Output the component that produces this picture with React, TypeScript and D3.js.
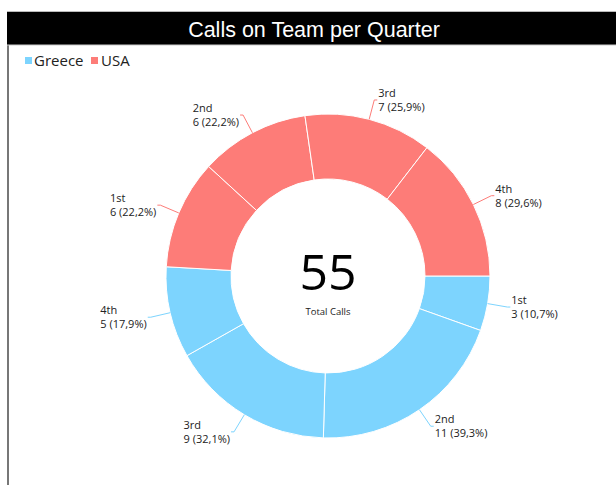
import React from "react";
import * as d3 from "d3";

const title = "Calls on Team per Quarter";
const series = ["Greece", "USA"];
const seriesColors = ["#7DD4FE", "#FD7C78"];
const quarters = ["1st", "2nd", "3rd", "4th"];
const greeceValues = [3, 11, 9, 5];
const usaValues = [6, 6, 7, 8];
const centerLabel = "Total Calls";

type Slice = { series: number; quarter: string; value: number; pct: number };

export default function App() {
  const W = 616;
  const H = 485;
  const cx = 328;
  const cy = 276;
  const outerR = 162;
  const innerR = 97;

  const all = [greeceValues, usaValues];
  const data: Slice[] = [];
  all.forEach((vals, s) => {
    const sum = d3.sum(vals);
    vals.forEach((v, i) =>
      data.push({ series: s, quarter: quarters[i], value: v, pct: (v / sum) * 100 })
    );
  });
  const total = d3.sum(data, (d) => d.value);

  const pie = d3
    .pie<Slice>()
    .value((d) => d.value)
    .sort(null)
    .startAngle(Math.PI / 2)
    .endAngle(Math.PI / 2 + 2 * Math.PI);
  const arcs = pie(data);
  const arc = d3.arc<d3.PieArcDatum<Slice>>().innerRadius(innerR).outerRadius(outerR);

  const fmt = (p: number) => p.toFixed(1).replace(".", ",");
  const labelFont = "'Open Sans', sans-serif";

  return (
    <svg
      width={W}
      height={H}
      style={{ position: "absolute", left: 0, top: 0, background: "#fff" }}
    >
      {/* frame */}
      <line x1={8} x2={8} y1={44} y2={H} stroke="#555" strokeWidth={1.6} />
      <rect x={7} y={11} width={W - 7} height={34} fill="#000" />
      <line x1={7} x2={W} y1={11.5} y2={11.5} stroke="#bbb" strokeWidth={1} />
      <line x1={7} x2={W} y1={45} y2={45} stroke="#ccc" strokeWidth={1} />
      <text
        x={314}
        y={37}
        textAnchor="middle"
        fill="#fff"
        fontFamily="'Liberation Sans', Arial, sans-serif"
        fontSize={21.5}
      >
        {title}
      </text>

      {/* legend */}
      <g fontFamily={labelFont} fontSize={15} fill="#222">
        <rect x={25} y={57} width={7} height={7} fill={seriesColors[0]} />
        <text x={34} y={66}>{series[0]}</text>
        <rect x={91} y={57} width={7} height={7} fill={seriesColors[1]} />
        <text x={101} y={66}>{series[1]}</text>
      </g>

      <g transform={`translate(${cx},${cy})`}>
        {arcs.map((a, i) => (
          <path
            key={i}
            d={arc(a) || ""}
            fill={seriesColors[a.data.series]}
            stroke="#fff"
            strokeWidth={1}
          />
        ))}
        {arcs.map((a, i) => {
          const mid = (a.startAngle + a.endAngle) / 2;
          const sx = Math.sin(mid);
          const sy = -Math.cos(mid);
          const p0 = [sx * outerR, sy * outerR];
          const p1 = [sx * (outerR + 20), sy * (outerR + 20)];
          const right = sx >= 0;
          const p2 = [p1[0] + (right ? 3 : -3), p1[1]];
          const tx = p2[0] + (right ? 1 : -1);
          return (
            <g key={"l" + i}>
              <polyline
                points={[p0, p1, p2].map((p) => p.join(",")).join(" ")}
                fill="none"
                stroke={seriesColors[a.data.series]}
                strokeWidth={1}
              />
              <LabelBlock
                x={tx}
                y={p1[1]}
                right={right}
                line1={a.data.quarter}
                line2={`${a.data.value} (${fmt(a.data.pct)}%)`}
                font={labelFont}
              />
            </g>
          );
        })}
        <text
          x={0}
          y={14}
          textAnchor="middle"
          fontFamily={labelFont}
          fontSize={50}
          fill="#000"
        >
          {total}
        </text>
        <text
          x={0}
          y={39}
          textAnchor="middle"
          fontFamily={labelFont}
          fontSize={9.5}
          fill="#222"
        >
          {centerLabel}
        </text>
      </g>
    </svg>
  );
}

function LabelBlock(props: {
  x: number;
  y: number;
  right: boolean;
  line1: string;
  line2: string;
  font: string;
}) {
  const { x, y, right, line1, line2, font } = props;
  const ref = React.useRef<SVGGElement>(null);
  const [w, setW] = React.useState(0);
  React.useLayoutEffect(() => {
    if (ref.current) setW(ref.current.getBBox().width);
  }, [line1, line2]);
  const left = right ? x : x - w;
  return (
    <g ref={ref} fontFamily={font} fontSize={11} fill="#222">
      <text x={left} y={y - 3}>{line1}</text>
      <text x={left} y={y + 11}>{line2}</text>
    </g>
  );
}
